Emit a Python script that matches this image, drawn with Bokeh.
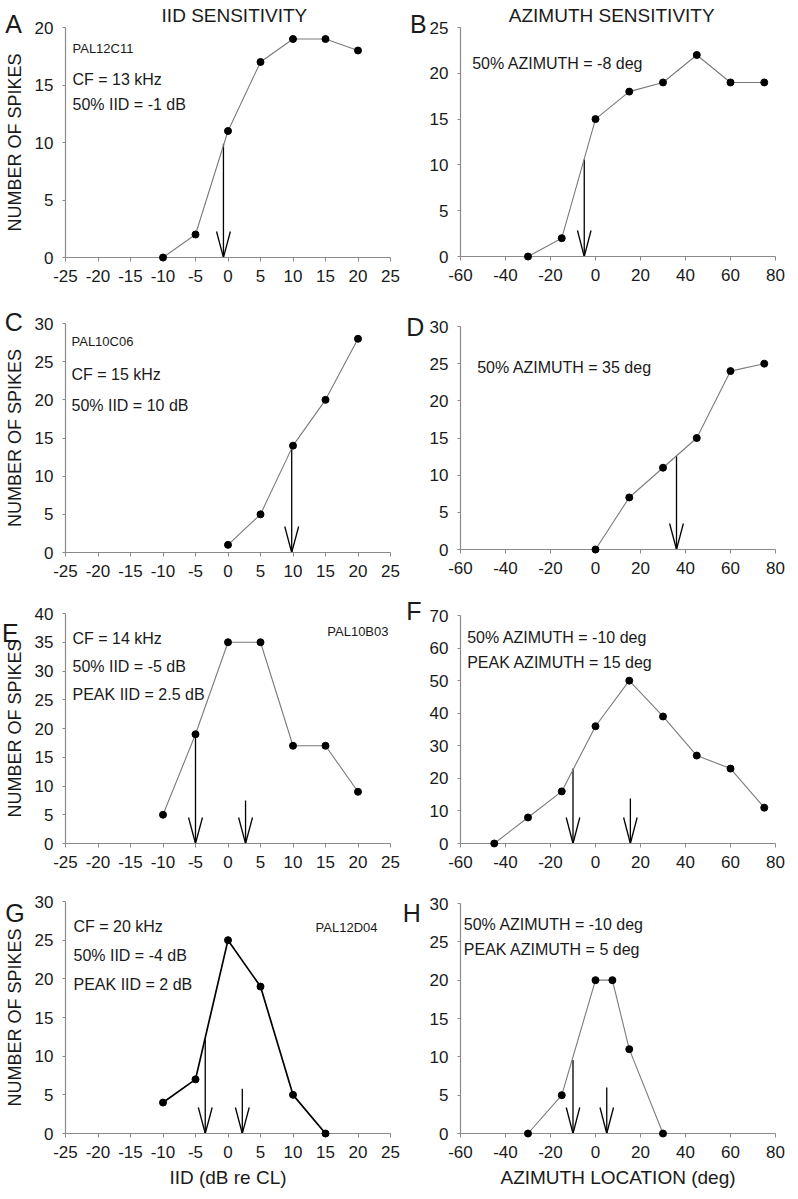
from bokeh.plotting import figure
from bokeh.layouts import column, row
from bokeh.models import Range1d, Label
from bokeh.core.properties import value
from bokeh.embed import file_html
from bokeh.resources import INLINE

FONT = "Liberation Sans"

# ---------------- data ----------------
iid_ticks = [-25, -20, -15, -10, -5, 0, 5, 10, 15, 20, 25]
az_ticks = [-60, -40, -20, 0, 20, 40, 60, 80]

a_x = [-10, -5, 0, 5, 10, 15, 20]
a_y = [0, 2, 11, 17, 19, 19, 18]
b_x = [-30, -15, 0, 15, 30, 45, 60, 75]
b_y = [0, 2, 15, 18, 19, 22, 19, 19]
c_x = [0, 5, 10, 15, 20]
c_y = [1, 5, 14, 20, 28]
d_x = [0, 15, 30, 45, 60, 75]
d_y = [0, 7, 11, 15, 24, 25]
e_x = [-10, -5, 0, 5, 10, 15, 20]
e_y = [5, 19, 35, 35, 17, 17, 9]
f_x = [-45, -30, -15, 0, 15, 30, 45, 60, 75]
f_y = [0, 8, 16, 36, 50, 39, 27, 23, 11]
g_x = [-10, -5, 0, 5, 10, 15]
g_y = [4, 7, 25, 19, 5, 0]
h_x = [-30, -15, 0, 7.5, 15, 30]
h_y = [0, 5, 20, 20, 11, 0]

# arrows: x position and top of the shaft
a_arrow_x = [-0.7]; a_arrow_top = [9.9]
b_arrow_x = [-5]; b_arrow_top = [10.6]
c_arrow_x = [9.8]; c_arrow_top = [14]
d_arrow_x = [36]; d_arrow_top = [12.6]
e_arrow_x = [-5, 2.7]; e_arrow_top = [18.6, 7.5]
f_arrow_x = [-10, 15.5]; f_arrow_top = [23, 13.8]
g_arrow_x = [-3.5, 2.2]; g_arrow_top = [12.2, 5.8]
h_arrow_x = [-10, 5]; h_arrow_top = [9.6, 6]

AXIS_C = "#8a8a8a"
LINE_C = "#7a7a7a"
TXT_C = "#1a1a1a"


class Panel:
    def __init__(self, xs, ys, xr, yr, xticks, yticks, fig_x, fig_y, w, h, mbl, mbr, mbt, mbb,
                 arrows_x, arrows_top, ylabel=None, xlabel=None,
                 line_color=LINE_C, line_width=1.1):
        self.xr, self.yr = xr, yr
        self.fig_x, self.fig_y = fig_x, fig_y
        self.mbl, self.mbt = mbl, mbt
        p = figure(width=w, height=h, x_range=Range1d(*xr), y_range=Range1d(*yr),
                   output_backend="svg", toolbar_location=None,
                   min_border_left=mbl, min_border_right=mbr,
                   min_border_top=mbt, min_border_bottom=mbb)
        p.outline_line_color = None
        p.grid.visible = False
        for ax in (p.xaxis[0], p.yaxis[0]):
            ax.axis_line_color = AXIS_C
            ax.axis_line_width = 1.2
            ax.major_tick_line_color = AXIS_C
            ax.minor_tick_line_color = None
            ax.major_tick_in = 0
            ax.major_label_text_font = FONT
            ax.major_label_text_font_size = "17px"
            ax.major_label_text_color = TXT_C
            ax.axis_label_text_font = FONT
            ax.axis_label_text_font_style = "normal"
            ax.axis_label_text_color = TXT_C
        p.xaxis.axis_label_text_font_size = "19px"
        p.yaxis.axis_label_text_font_size = "18px"
        p.xaxis.ticker = xticks
        p.yaxis.ticker = yticks
        p.xaxis.major_label_overrides = {t: str(t) for t in xticks}
        p.yaxis.major_label_overrides = {t: str(t) for t in yticks}
        p.xaxis.major_tick_out = 4
        p.yaxis.major_tick_out = 3
        p.xaxis.major_label_standoff = 8
        p.yaxis.major_label_standoff = 9
        if ylabel:
            p.yaxis.axis_label = ylabel
            p.yaxis.axis_label_standoff = 7
        if xlabel:
            p.xaxis.axis_label = xlabel
            p.xaxis.axis_label_standoff = 6

        fw = w - mbl - mbr
        fh = h - mbt - mbb
        self.ux = (xr[1] - xr[0]) / fw
        self.uy = (yr[1] - yr[0]) / fh
        hw, hl = 7 * self.ux, 26 * self.uy
        x0 = []; y0 = []; x1 = []; y1 = []
        for ax_, top in zip(arrows_x, arrows_top):
            x0 += [ax_, ax_ - hw, ax_ + hw]
            y0 += [top, hl, hl]
            x1 += [ax_, ax_, ax_]
            y1 += [0, 0, 0]
        p.segment(x0=x0, y0=y0, x1=x1, y1=y1, line_color="black", line_width=1.3)
        p.line(xs, ys, line_color=line_color, line_width=line_width)
        p.scatter(xs, ys, size=7, fill_color="black", line_color="black", level="overlay")
        self.p = p

    def label(self, text, dx, dy, size, align="left", right=False):
        self.p.add_layout(Label(x=(self.xr[1] if right else self.xr[0]), y=self.yr[1],
                                x_offset=dx, y_offset=-dy, text=text, text_align=align,
                                text_baseline="alphabetic", text_font=FONT,
                                text_font_size=size, text_color=TXT_C))

    def page_text(self, text, px, py, size, align="left"):
        # px, py: position on the page (baseline), converted to data units
        x = self.xr[0] + (px - self.fig_x - self.mbl) * self.ux
        y = self.yr[1] - (py - self.fig_y - self.mbt) * self.uy
        self.p.text(x=[x], y=[y], text=[text], text_font=value(FONT), text_font_size=size,
                    text_align=align, text_baseline="alphabetic", text_color=TXT_C,
                    level="overlay")


IIDR = (-25, 25)
AZR = (-60, 80)
YL = "NUMBER OF SPIKES"
LW, RW = 400, 398
R1, R2, R3, R4 = 292, 294, 300, 310
Y1, Y2, Y3 = R1, R1 + R2, R1 + R2 + R3

# ---- left column ----
A = Panel(a_x, a_y, IIDR, (0, 20), iid_ticks, [0, 5, 10, 15, 20], 0, 0, LW, R1, 63, 8, 27, 35,
          a_arrow_x, a_arrow_top, ylabel=YL)
A.page_text("A", 2, 23, "25px")
A.page_text("IID SENSITIVITY", 234, 15, "19px", align="center")
A.label("PAL12C11", 7, 20.7, "13px")
A.label("CF = 13 kHz", 7, 51.7, "16px")
A.label("50% IID = -1 dB", 7, 77.4, "16px")

C = Panel(c_x, c_y, IIDR, (0, 30), iid_ticks, [0, 5, 10, 15, 20, 25, 30], 0, Y1, LW, R2, 63, 10, 31, 34,
          c_arrow_x, c_arrow_top, ylabel=YL)
C.page_text("C", 2, 321, "25px")
C.label("PAL10C06", 6, 18, "13px")
C.label("CF = 15 kHz", 6, 50.7, "16px")
C.label("50% IID = 10 dB", 6, 82.4, "16px")

E = Panel(e_x, e_y, IIDR, (0, 40), iid_ticks, [0, 5, 10, 15, 20, 25, 30, 35, 40], 0, Y2, LW, R3, 65, 8, 27, 43,
          e_arrow_x, e_arrow_top, ylabel=YL)
E.page_text("E", 1, 632, "25px")
E.label("CF = 14 kHz", 7, 25, "16px")
E.label("50% IID = -5 dB", 7, 53.4, "16px")
E.label("PEAK IID = 2.5 dB", 7, 80.7, "16px")
E.label("PAL10B03", -2, 18, "13px", align="right", right=True)

G = Panel(g_x, g_y, IIDR, (0, 30), iid_ticks, [0, 5, 10, 15, 20, 25, 30], 0, Y3, LW, R4, 63, 8, 15, 63,
          g_arrow_x, g_arrow_top, ylabel=YL, xlabel="IID (dB re CL)",
          line_color="black", line_width=1.7)
G.page_text("G", 2, 912, "25px")
G.label("CF = 20 kHz", 8, 25, "16px")
G.label("50% IID = -4 dB", 8, 54.4, "16px")
G.label("PEAK IID = 2 dB", 8, 82.7, "16px")
G.label("PAL12D04", -13, 25.6, "13px", align="right", right=True)

# ---- right column ----
B = Panel(b_x, b_y, AZR, (0, 25), az_ticks, [0, 5, 10, 15, 20, 25], LW, 0, RW, R1, 52, 21, 27, 36,
          b_arrow_x, b_arrow_top)
B.page_text("B", 400, 23, "25px")
B.page_text("AZIMUTH SENSITIVITY", 608, 15, "19px", align="center")
B.label("50% AZIMUTH = -8 deg", 11.7, 35.7, "16px")

D = Panel(d_x, d_y, AZR, (0, 30), az_ticks, [0, 5, 10, 15, 20, 25, 30], LW, Y1, RW, R2, 55, 23, 34, 37,
          d_arrow_x, d_arrow_top)
D.page_text("D", 400, 326, "25px")
D.label("50% AZIMUTH = 35 deg", 16.7, 41, "16px")

F = Panel(f_x, f_y, AZR, (0, 70), az_ticks, [0, 10, 20, 30, 40, 50, 60, 70], LW, Y2, RW, R3, 57, 16, 29, 43,
          f_arrow_x, f_arrow_top)
F.page_text("F", 401, 610, "25px")
F.label("50% AZIMUTH = -10 deg", 6.7, 22.4, "16px")
F.label("PEAK AZIMUTH = 15 deg", 6.7, 46.7, "16px")

H = Panel(h_x, h_y, AZR, (0, 30), az_ticks, [0, 5, 10, 15, 20, 25, 30], LW, Y3, RW, R4, 60, 11, 17, 63,
          h_arrow_x, h_arrow_top, xlabel="AZIMUTH LOCATION (deg)")
H.page_text("H", 400, 912, "25px")
H.label("50% AZIMUTH = -10 deg", 3.3, 21.4, "16px")
H.label("PEAK AZIMUTH = 5 deg", 3.3, 45.7, "16px")

layout = row(column(A.p, C.p, E.p, G.p), column(B.p, D.p, F.p, H.p))

open("out.html", "w").write(file_html(layout, INLINE))
